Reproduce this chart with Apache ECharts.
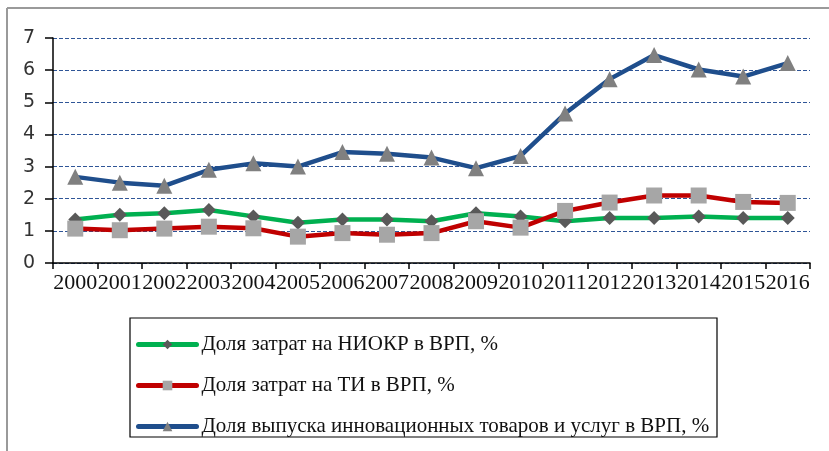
<!DOCTYPE html>
<html lang="ru">
<head>
    <meta charset="UTF-8">
    <title>Доля в ВРП</title>
    <script src="https://cdn.jsdelivr.net/npm/echarts@6/dist/echarts.min.js"></script>
</head>
<body style="margin:0;background:#fff">
<div id="main" style="width: 829px;height:451px;"></div>
<script type="text/javascript">
    // данные
    var years = ['2000','2001','2002','2003','2004','2005','2006','2007','2008',
        '2009','2010','2011','2012','2013','2014','2015','2016'];
    var niokr = [1.35, 1.5, 1.55, 1.65, 1.45, 1.25, 1.35, 1.35, 1.3, 1.55, 1.45, 1.3, 1.4, 1.4, 1.45, 1.4, 1.4];
    var ti = [1.07, 1.02, 1.07, 1.13, 1.08, 0.82, 0.93, 0.88, 0.93, 1.3, 1.1, 1.62, 1.88, 2.1, 2.1, 1.9, 1.87];
    var innov = [2.68, 2.5, 2.4, 2.9, 3.1, 3.0, 3.45, 3.4, 3.28, 2.95, 3.33, 4.65, 5.72, 6.47, 6.02, 5.8, 6.22];
    var seriesNames = [
        'Доля затрат на НИОКР в ВРП, %',
        'Доля затрат на ТИ в ВРП, %',
        'Доля выпуска инновационных товаров и услуг в ВРП, %'
    ];
    var yTicks = [0, 7, 1]; // min, max, interval

    var myChart = echarts.init(document.getElementById('main'));
    var serif = '"Liberation Serif", "DejaVu Serif", serif';

    function lineSeries(name, data, lineColor, markColor, symbol, size) {
        return {
            name: name,
            type: 'line',
            data: data,
            symbol: symbol,
            symbolSize: size,
            lineStyle: {color: lineColor, width: 4.5},
            itemStyle: {color: markColor},
            z: 2
        };
    }

    var option = {
        animation: false,
        grid: {left: 53, right: 19, top: 38, bottom: 188},
        legend: {
            orient: 'vertical',
            left: 136,
            top: 334,
            padding: 0,
            itemWidth: 58,
            itemHeight: 12,
            itemGap: 20,
            lineStyle: {width: 5, cap: 'round'},
            textStyle: {fontFamily: serif, fontSize: 21, color: '#111'},
            data: seriesNames
        },
        xAxis: {
            type: 'category',
            data: years,
            boundaryGap: true,
            axisLine: {lineStyle: {color: '#000', width: 1.5}},
            axisTick: {show: true, length: 6, lineStyle: {color: '#000', width: 1.5}},
            axisLabel: {interval: 0, margin: 9, fontFamily: serif, fontSize: 22, color: '#111'}
        },
        yAxis: {
            type: 'value',
            min: yTicks[0],
            max: yTicks[1],
            interval: yTicks[2],
            axisLine: {show: true, lineStyle: {color: '#000', width: 1.5}},
            axisTick: {show: true, length: 8, lineStyle: {color: '#000', width: 1.5}},
            axisLabel: {margin: 18, fontFamily: '"DejaVu Sans", sans-serif', fontSize: 19, color: '#333'},
            splitLine: {lineStyle: {color: '#2f5597', type: [4, 2], width: 1}}
        },
        graphic: [
            {type: 'line', shape: {x1: 7, y1: 8, x2: 829, y2: 8}, style: {stroke: '#9a9a9a', lineWidth: 2}},
            {type: 'line', shape: {x1: 7, y1: 8, x2: 7, y2: 451}, style: {stroke: '#9a9a9a', lineWidth: 2}},
            {type: 'rect', shape: {x: 130, y: 318, width: 587, height: 119},
                style: {fill: 'none', stroke: '#000', lineWidth: 1.2}, z: -1}
        ],
        series: [
            lineSeries(seriesNames[0], niokr, '#00b050', '#595959', 'diamond', 14),
            lineSeries(seriesNames[1], ti, '#c00000', '#a6a6a6', 'rect', 16),
            lineSeries(seriesNames[2], innov, '#1f4e8c', '#808080', 'triangle', 16)
        ]
    };
    myChart.setOption(option);
</script>
</body>
</html>
